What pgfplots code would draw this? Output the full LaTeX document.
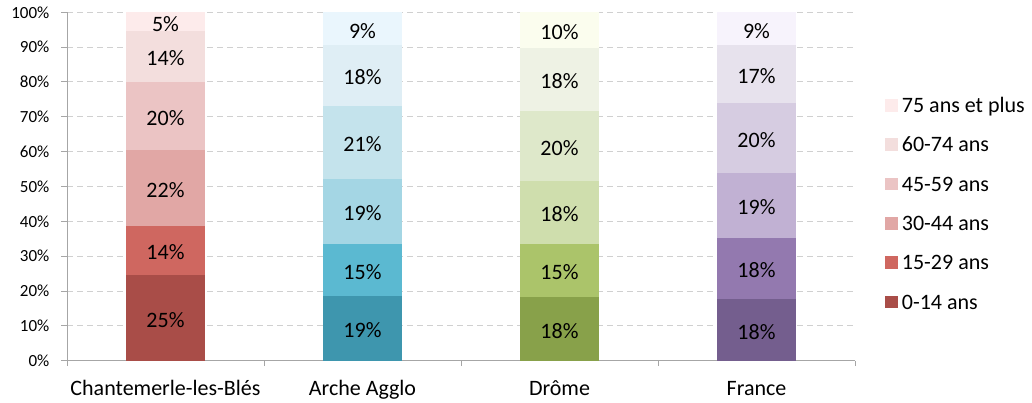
\documentclass[border=0pt]{standalone}
\usepackage{fontspec}
\setmainfont{Carlito}
\usepackage{pgfplots}
\pgfplotsset{compat=1.18}
\definecolor{axisgray}{HTML}{A6A6A6}
\definecolor{gridgray}{HTML}{D0D0D0}
\definecolor{r0}{HTML}{A94D48}\definecolor{r1}{HTML}{CF6760}\definecolor{r2}{HTML}{E1A7A5}
\definecolor{r3}{HTML}{EBC4C4}\definecolor{r4}{HTML}{F3DEDD}\definecolor{r5}{HTML}{FDEBEB}
\definecolor{b0}{HTML}{3E96AE}\definecolor{b1}{HTML}{5BB9D1}\definecolor{b2}{HTML}{A4D6E4}
\definecolor{b3}{HTML}{C4E3EC}\definecolor{b4}{HTML}{DFEEF5}\definecolor{b5}{HTML}{EAF6FD}
\definecolor{g0}{HTML}{88A14A}\definecolor{g1}{HTML}{ABC46A}\definecolor{g2}{HTML}{CFDEAD}
\definecolor{g3}{HTML}{DEE8CA}\definecolor{g4}{HTML}{EEF2E4}\definecolor{g5}{HTML}{FBFDEE}
\definecolor{p0}{HTML}{745E8E}\definecolor{p1}{HTML}{9379AF}\definecolor{p2}{HTML}{C1B1D3}
\definecolor{p3}{HTML}{D6CCE1}\definecolor{p4}{HTML}{E7E2ED}\definecolor{p5}{HTML}{F7F3FC}
\begin{document}
\begin{tikzpicture}
\path[use as bounding box] (0,0) rectangle (1032bp,403bp);
\begin{axis}[
  at={(67bp,42.3bp)}, anchor=south west,
  scale only axis, width=788bp, height=348.4bp,
  ybar stacked, bar width=79bp,
  xmin=-0.5, xmax=3.5, ymin=0, ymax=100,
  axis x line*=bottom, axis y line*=left,
  axis line style={draw=axisgray, line width=1bp, -},
  xtick={-0.5,0.5,1.5,2.5,3.5}, xticklabels={},
  extra x ticks={0,1,2,3},
  extra x tick labels={Chantemerle-les-Blés, Arche Agglo, Drôme, France},
  extra x tick style={major tick length=0pt,
     xticklabel style={font=\fontsize{22bp}{26bp}\selectfont, anchor=base, yshift=-35.3bp}},
  ytick={0,10,...,100},
  yticklabel={\pgfmathprintnumber{\tick}\%},
  /pgf/number format/assume math mode=true,
  yticklabel style={font=\fontsize{17bp}{20bp}\selectfont, anchor=east, inner sep=0pt, xshift=-12bp},
  tick align=outside, major tick length=5.5bp,
  tick style={draw=axisgray, line width=1bp},
  ymajorgrids, grid style={draw=gridgray, dash pattern=on 6bp off 4bp, line width=1bp},
  point meta=explicit symbolic,
  nodes near coords,
  every node near coord/.append style={anchor=center, yshift=-2bp, font=\fontsize{22bp}{26bp}\selectfont, text=black},
  legend image code/.code={\fill[#1] (0bp,-6.35bp) rectangle (12.7bp,6.35bp);},
  legend cell align=left,
  legend style={at={(1.0381,0.7537)}, anchor=north west, draw=none, fill=none,
     inner sep=0pt, row sep=25.1bp, column sep=4bp,
     font=\fontsize{22bp}{26bp}\selectfont,
     nodes={inner sep=0pt, text height=14.2bp, text depth=0pt}},
]
\addlegendimage{fill=r5, draw=none}\addlegendentry{75 ans et plus}
\addlegendimage{fill=r4, draw=none}\addlegendentry{60-74 ans}
\addlegendimage{fill=r3, draw=none}\addlegendentry{45-59 ans}
\addlegendimage{fill=r2, draw=none}\addlegendentry{30-44 ans}
\addlegendimage{fill=r1, draw=none}\addlegendentry{15-29 ans}
\addlegendimage{fill=r0, draw=none}\addlegendentry{0-14 ans}
% Chantemerle-les-Blés
\addplot[fill=r0, draw=none] coordinates {(0,24.6) [25\%] (1,0) [] (2,0) [] (3,0) []};
\addplot[fill=r1, draw=none] coordinates {(0,14.1) [14\%] (1,0) [] (2,0) [] (3,0) []};
\addplot[fill=r2, draw=none] coordinates {(0,21.8) [22\%] (1,0) [] (2,0) [] (3,0) []};
\addplot[fill=r3, draw=none] coordinates {(0,19.5) [20\%] (1,0) [] (2,0) [] (3,0) []};
\addplot[fill=r4, draw=none] coordinates {(0,14.6) [14\%] (1,0) [] (2,0) [] (3,0) []};
\addplot[fill=r5, draw=none] coordinates {(0,5.4) [5\%] (1,0) [] (2,0) [] (3,0) []};
% Arche Agglo
\addplot[fill=b0, draw=none] coordinates {(0,0) [] (1,18.6) [19\%] (2,0) [] (3,0) []};
\addplot[fill=b1, draw=none] coordinates {(0,0) [] (1,14.9) [15\%] (2,0) [] (3,0) []};
\addplot[fill=b2, draw=none] coordinates {(0,0) [] (1,18.7) [19\%] (2,0) [] (3,0) []};
\addplot[fill=b3, draw=none] coordinates {(0,0) [] (1,20.9) [21\%] (2,0) [] (3,0) []};
\addplot[fill=b4, draw=none] coordinates {(0,0) [] (1,17.5) [18\%] (2,0) [] (3,0) []};
\addplot[fill=b5, draw=none] coordinates {(0,0) [] (1,9.4) [9\%] (2,0) [] (3,0) []};
% Drome
\addplot[fill=g0, draw=none] coordinates {(0,0) [] (1,0) [] (2,18.4) [18\%] (3,0) []};
\addplot[fill=g1, draw=none] coordinates {(0,0) [] (1,0) [] (2,15.1) [15\%] (3,0) []};
\addplot[fill=g2, draw=none] coordinates {(0,0) [] (1,0) [] (2,18.1) [18\%] (3,0) []};
\addplot[fill=g3, draw=none] coordinates {(0,0) [] (1,0) [] (2,20.1) [20\%] (3,0) []};
\addplot[fill=g4, draw=none] coordinates {(0,0) [] (1,0) [] (2,18.0) [18\%] (3,0) []};
\addplot[fill=g5, draw=none] coordinates {(0,0) [] (1,0) [] (2,10.3) [10\%] (3,0) []};
% France
\addplot[fill=p0, draw=none] coordinates {(0,0) [] (1,0) [] (2,0) [] (3,17.7) [18\%]};
\addplot[fill=p1, draw=none] coordinates {(0,0) [] (1,0) [] (2,0) [] (3,17.5) [18\%]};
\addplot[fill=p2, draw=none] coordinates {(0,0) [] (1,0) [] (2,0) [] (3,18.7) [19\%]};
\addplot[fill=p3, draw=none] coordinates {(0,0) [] (1,0) [] (2,0) [] (3,20.1) [20\%]};
\addplot[fill=p4, draw=none] coordinates {(0,0) [] (1,0) [] (2,0) [] (3,16.6) [17\%]};
\addplot[fill=p5, draw=none] coordinates {(0,0) [] (1,0) [] (2,0) [] (3,9.4) [9\%]};
\end{axis}
\end{tikzpicture}
\end{document}
